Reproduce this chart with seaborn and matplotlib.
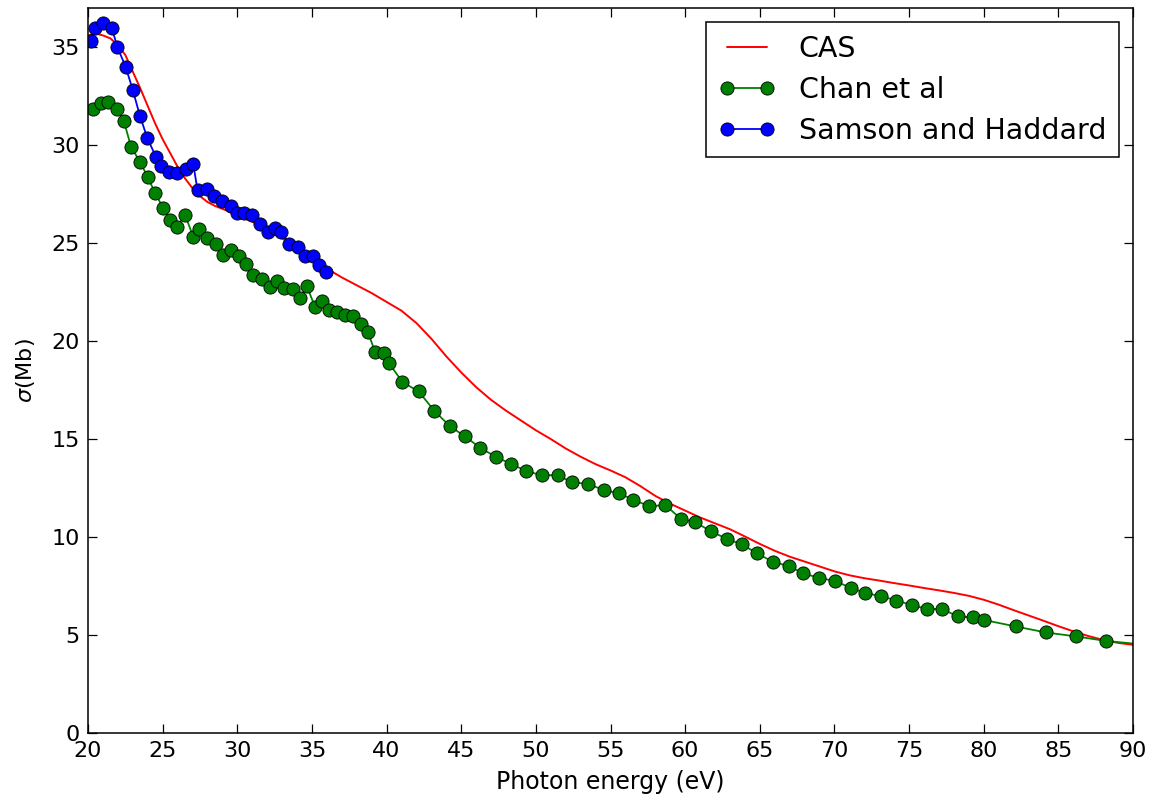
import numpy as np
import pandas as pd
import matplotlib
matplotlib.use("Agg")
import matplotlib.pyplot as plt
import seaborn as sns

# ---------------- data ----------------
cas_x = [20.0, 20.5, 21, 21.5, 22, 22.5, 23, 23.5, 24, 24.5, 25, 25.5, 26, 26.5, 27, 27.5,
         28, 28.5, 29, 29.5, 30, 31, 32, 33, 34, 35, 36, 37, 38, 39, 40, 41, 42, 43, 44,
         45, 46, 47, 48, 49, 50, 51, 52, 53, 54, 55, 56, 57, 58, 59, 60, 61, 62, 63, 64,
         65, 66, 67, 68, 69, 70, 71, 72, 73, 74, 75, 76, 77, 78, 79, 80, 81, 82, 83, 84,
         85, 86, 87, 88, 89, 90]
cas_y = [35.6, 35.7, 35.6, 35.45, 35.1, 34.6, 33.75, 32.9, 32.0, 31.1, 30.3, 29.6, 28.9,
         28.3, 27.8, 27.4, 27.1, 26.9, 26.75, 26.6, 26.4, 26.1, 25.65, 25.25, 24.8, 24.25,
         23.7, 23.25, 22.85, 22.45, 22.0, 21.55, 20.92, 20.12, 19.22, 18.4, 17.65, 17.0,
         16.45, 15.95, 15.45, 15.0, 14.52, 14.1, 13.72, 13.4, 13.05, 12.6, 12.1, 11.7, 11.35,
         11.0, 10.7, 10.4, 10.03, 9.65, 9.3, 9.0, 8.75, 8.5, 8.25, 8.05, 7.9, 7.78, 7.65,
         7.53, 7.4, 7.28, 7.15, 7.0, 6.8, 6.55, 6.27, 6.0, 5.73, 5.45, 5.19, 4.95, 4.75, 4.6,
         4.5]

chan_x = [20.35, 20.87, 21.36, 21.96, 22.41, 22.88, 23.48, 23.99, 24.48, 25.02, 25.49,
          25.98, 26.49, 27.05, 27.45, 27.98, 28.57, 29.05, 29.57, 30.12, 30.56, 31.06,
          31.64, 32.18, 32.63, 33.11, 33.70, 34.19, 34.67, 35.21, 35.70, 36.15, 36.68,
          37.22, 37.75, 38.29, 38.74, 39.23, 39.81, 40.15, 41.06, 42.15, 43.20, 44.25,
          45.23, 46.26, 47.31, 48.31, 49.36, 50.40, 51.45, 52.43, 53.48, 54.53, 55.60,
          56.53, 57.61, 58.68, 59.69, 60.69, 61.74, 62.78, 63.79, 64.82, 65.86, 66.93,
          67.91, 68.94, 70.01, 71.08, 72.05, 73.09, 74.14, 75.19, 76.17, 77.20, 78.27,
          79.25, 80.01, 82.13, 84.17, 86.18, 88.19, 92.2]
chan_y = [31.86, 32.16, 32.19, 31.87, 31.21, 29.92, 29.15, 28.39, 27.58, 26.81, 26.17,
          25.83, 26.46, 25.32, 25.74, 25.26, 24.95, 24.37, 24.64, 24.32, 23.93, 23.36,
          23.15, 22.77, 23.08, 22.69, 22.64, 22.21, 22.79, 21.73, 22.05, 21.60, 21.48,
          21.33, 21.28, 20.89, 20.48, 19.44, 19.41, 18.89, 17.91, 17.43, 16.44, 15.65,
          15.15, 14.56, 14.10, 13.74, 13.37, 13.15, 13.16, 12.79, 12.72, 12.40, 12.23,
          11.89, 11.58, 11.63, 10.94, 10.75, 10.29, 9.91, 9.63, 9.17, 8.74, 8.52, 8.15,
          7.92, 7.76, 7.42, 7.14, 6.99, 6.76, 6.53, 6.33, 6.33, 5.95, 5.90, 5.77, 5.44,
          5.13, 4.93, 4.70, 4.40]

sam_x = [20.18, 20.47, 21.02, 21.59, 21.96, 22.52, 22.99, 23.48, 23.97, 24.55, 24.87,
         25.44, 25.98, 26.54, 27.05, 27.34, 27.98, 28.45, 28.99, 29.55, 29.99, 30.46,
         30.97, 31.51, 32.03, 32.51, 32.96, 33.47, 34.05, 34.54, 35.04, 35.48, 35.91]
sam_y = [35.32, 35.98, 36.24, 36.00, 35.02, 34.00, 32.84, 31.49, 30.37, 29.40, 28.96,
         28.64, 28.59, 28.79, 29.03, 27.69, 27.76, 27.40, 27.13, 26.90, 26.55, 26.52,
         26.43, 25.97, 25.56, 25.77, 25.58, 24.96, 24.78, 24.34, 24.34, 23.86, 23.52]

x_ticks = list(range(20, 91, 5))
y_ticks = list(range(0, 36, 5))

# ---------------- style ----------------
sns.set_style("white")
plt.rcParams.update({
    "font.family": ["DejaVu Sans"],
    "mathtext.fontset": "dejavusans",
    "text.color": "black",
    "axes.labelcolor": "black",
    "axes.edgecolor": "black",
    "axes.linewidth": 1.1,
    "xtick.color": "black",
    "ytick.color": "black",
    "xtick.direction": "in",
    "ytick.direction": "in",
    "xtick.top": True,
    "ytick.right": True,
    "xtick.bottom": True,
    "ytick.left": True,
})

fig = plt.figure(figsize=(11.55, 8.08), dpi=100)
ax = fig.add_axes([0.0762, 0.0928, 0.9048, 0.8973])

sns.lineplot(x=cas_x, y=cas_y, color="#ff0000", lw=1.4, label="CAS", ax=ax)
sns.lineplot(x=chan_x, y=chan_y, color="#008000", lw=1.3, marker="o", markersize=9.5,
             markeredgecolor="black", markeredgewidth=0.6, label="Chan et al", ax=ax)
sns.lineplot(x=sam_x, y=sam_y, color="#0000ff", lw=1.3, marker="o", markersize=9.5,
             markeredgecolor="black", markeredgewidth=0.6, label="Samson and Haddard", ax=ax)

ax.set_xlim(20, 90)
ax.set_ylim(0, 37)
ax.set_xticks(x_ticks)
ax.set_yticks(y_ticks)
ax.tick_params(axis="both", which="major", length=6.5, width=0.9, labelsize=16,
               colors="black", pad=6)
ax.set_xlabel("Photon energy (eV)", fontsize=17, labelpad=6, color="black")
ax.set_ylabel(r"$\sigma$(Mb)", fontsize=16, labelpad=10, color="black")

leg = ax.legend(loc="upper right", fontsize=20.5, numpoints=2, fancybox=False,
                framealpha=1, edgecolor="black", handlelength=2.0, handletextpad=0.8,
                borderpad=0.45, labelspacing=0.45, borderaxespad=0.5)
leg.get_frame().set_linewidth(1.1)
for t in leg.get_texts():
    t.set_color("black")

fig.savefig("out.png", dpi=100, facecolor="white")
